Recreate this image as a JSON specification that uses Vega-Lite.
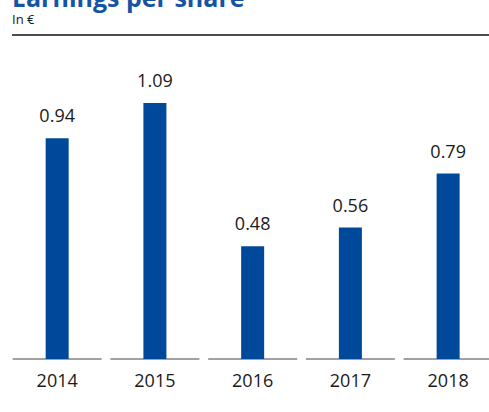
{
  "$schema": "https://vega.github.io/schema/vega-lite/v6.json",
  "autosize": {"type": "none"},
  "width": 477,
  "height": 324,
  "padding": {"left": 12, "top": 35, "right": 0, "bottom": 53},
  "background": "white",
  "title": {
    "text": "Earnings per share",
    "subtitle": "In €",
    "anchor": "start",
    "frame": "group",
    "font": "Open Sans",
    "fontSize": 25,
    "fontWeight": "bold",
    "color": "#1553a3",
    "subtitleFont": "Open Sans",
    "subtitleFontSize": 13,
    "subtitleColor": "#1a1a1a",
    "subtitlePadding": 2,
    "offset": 7.5
  },
  "data": {
    "values": [
      {"year": "2014", "eps": 0.94},
      {"year": "2015", "eps": 1.09},
      {"year": "2016", "eps": 0.48},
      {"year": "2017", "eps": 0.56},
      {"year": "2018", "eps": 0.79}
    ]
  },
  "layer": [
    {
      "mark": {"type": "tick", "orient": "horizontal", "size": 89, "thickness": 1.5, "color": "#4d4d4d"},
      "encoding": {
        "x": {
          "field": "year",
          "type": "nominal",
          "sort": null,
          "scale": {"range": [-3.7, 485], "paddingInner": 0, "paddingOuter": 0},
          "axis": {
            "title": null,
            "domain": false,
            "ticks": false,
            "labelAngle": 0,
            "labelFont": "Open Sans",
            "labelFontSize": 18,
            "labelColor": "#1a1a1a",
            "labelPadding": 13
          }
        },
        "y": {"datum": 0, "type": "quantitative", "scale": {"domain": [0, 1.38], "nice": false, "zero": true}, "axis": null}
      }
    },
    {
      "mark": {"type": "rule", "color": "#4d4d4d", "strokeWidth": 1.5},
      "encoding": {"y": {"datum": 1.38, "type": "quantitative", "scale": {"domain": [0, 1.38], "nice": false}}}
    },
    {
      "mark": {"type": "bar", "width": 23, "color": "#00489a"},
      "encoding": {
        "x": {"field": "year", "type": "nominal", "sort": null},
        "y": {"field": "eps", "type": "quantitative", "scale": {"domain": [0, 1.38], "nice": false}}
      }
    },
    {
      "mark": {"type": "text", "font": "Open Sans", "fontSize": 18, "color": "#1a1a1a", "dy": -16, "baseline": "alphabetic"},
      "encoding": {
        "x": {"field": "year", "type": "nominal", "sort": null},
        "y": {"field": "eps", "type": "quantitative", "scale": {"domain": [0, 1.38], "nice": false}},
        "text": {"field": "eps", "type": "quantitative", "format": ".2f"}
      }
    }
  ],
  "config": {"view": {"stroke": null}}
}
